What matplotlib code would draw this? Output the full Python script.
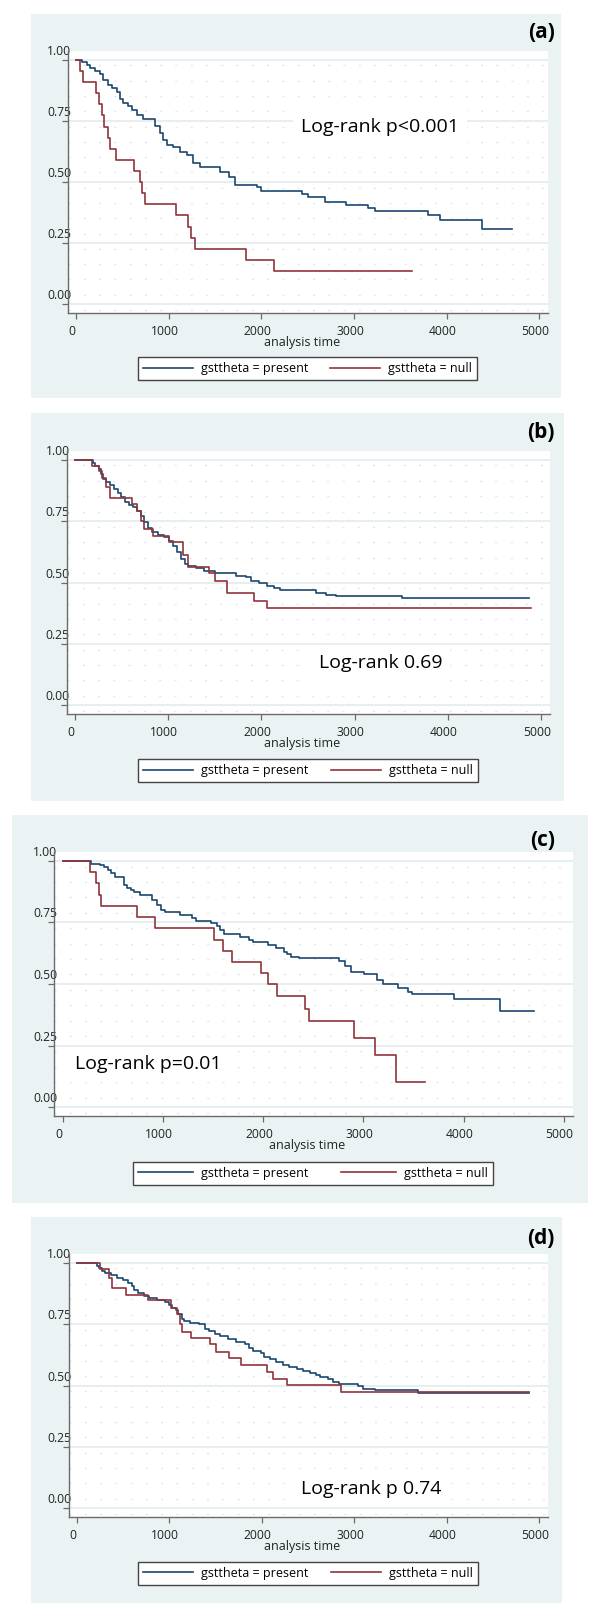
import numpy as np
import matplotlib.pyplot as plt
from matplotlib.patches import Rectangle
from matplotlib.transforms import ScaledTranslation

plt.rcParams['font.family'] = ['Open Sans', 'DejaVu Sans']

BG = '#eaf2f3'
BLUE = '#1a476f'
RED = '#90353b'
AXC = '#6b6b6b'
GRID = '#e2ebee'
DOT = '#dfe8eb'

# ---- data: Kaplan-Meier steps (time, survival after step) ----
a_present_t = [0, 58, 112, 148, 202, 256, 292, 346, 382, 436, 472, 508, 562, 598, 652, 724, 850, 904, 940, 976,
               1048, 1120, 1192, 1264, 1336, 1550, 1650, 1715, 1950, 1990, 2440, 2500, 2690, 2910, 3150, 3230,
               3800, 3930, 4380, 4700]
a_present_s = [1.0, 0.993, 0.980, 0.966, 0.956, 0.943, 0.918, 0.898, 0.884, 0.870, 0.840, 0.822, 0.811, 0.795,
               0.775, 0.757, 0.730, 0.700, 0.672, 0.652, 0.642, 0.624, 0.611, 0.577, 0.563, 0.543, 0.522, 0.490,
               0.480, 0.465, 0.450, 0.440, 0.420, 0.407, 0.395, 0.383, 0.366, 0.345, 0.308, 0.308]
a_null_t = [0, 40, 70, 215, 245, 275, 305, 340, 365, 435, 620, 690, 715, 745, 1080, 1210, 1245, 1285, 1830, 2140, 3620]
a_null_s = [1.0, 0.955, 0.909, 0.864, 0.818, 0.773, 0.727, 0.682, 0.636, 0.591, 0.545, 0.500, 0.455, 0.409,
            0.364, 0.318, 0.273, 0.227, 0.182, 0.136, 0.136]

b_present_t = [0, 193, 213, 254, 283, 307, 336, 377, 418, 459, 500, 541, 582, 623, 664, 705, 746, 787, 828, 889,
               951, 1012, 1053, 1094, 1135, 1176, 1217, 1299, 1381, 1504, 1729, 1832, 1893, 1975, 2057, 2139, 2201,
               2590, 2692, 2795, 3504, 4872]
b_present_s = [1.0, 0.989, 0.976, 0.962, 0.942, 0.921, 0.908, 0.898, 0.881, 0.867, 0.847, 0.827, 0.816, 0.806,
               0.793, 0.772, 0.745, 0.722, 0.705, 0.695, 0.684, 0.671, 0.650, 0.623, 0.596, 0.576, 0.569, 0.560,
               0.549, 0.538, 0.528, 0.522, 0.508, 0.499, 0.488, 0.478, 0.470, 0.458, 0.451, 0.447, 0.436, 0.436]
b_null_t = [0, 184, 254, 295, 336, 377, 615, 664, 705, 746, 840, 1012, 1156, 1217, 1434, 1504, 1627, 1922, 2065, 4893]
b_null_s = [1.0, 0.976, 0.955, 0.928, 0.888, 0.844, 0.820, 0.793, 0.752, 0.718, 0.691, 0.664, 0.614, 0.565,
            0.538, 0.508, 0.457, 0.427, 0.397, 0.397]

c_present_t = [0, 283, 371, 409, 447, 485, 523, 607, 638, 676, 714, 772, 886, 943, 982, 1020, 1173, 1287, 1326,
               1478, 1536, 1574, 1612, 1765, 1860, 1899, 2051, 2128, 2204, 2242, 2281, 2357, 2758, 2815, 2873,
               3006, 3140, 3197, 3350, 3446, 3484, 3904, 4362, 4706]
c_present_s = [1.0, 0.988, 0.982, 0.974, 0.964, 0.950, 0.934, 0.903, 0.889, 0.880, 0.872, 0.862, 0.842, 0.822,
               0.801, 0.791, 0.781, 0.768, 0.757, 0.747, 0.736, 0.720, 0.703, 0.693, 0.680, 0.670, 0.659, 0.646,
               0.632, 0.623, 0.612, 0.605, 0.592, 0.572, 0.551, 0.542, 0.518, 0.500, 0.484, 0.470, 0.461, 0.439,
               0.389, 0.389]
c_null_t = [0, 275, 332, 363, 382, 745, 917, 1505, 1604, 1688, 1983, 2051, 2135, 2422, 2460, 2903, 3121, 3324, 3618]
c_null_s = [1.0, 0.953, 0.909, 0.862, 0.818, 0.772, 0.727, 0.680, 0.635, 0.591, 0.545, 0.501, 0.450, 0.399,
            0.349, 0.281, 0.211, 0.104, 0.104]

d_present_t = [0, 215, 240, 269, 310, 373, 435, 497, 559, 600, 621, 662, 724, 786, 869, 952, 993, 1035, 1076, 1097,
               1138, 1159, 1221, 1324, 1387, 1428, 1490, 1552, 1635, 1718, 1821, 1863, 1904, 1987, 2028, 2090,
               2152, 2235, 2297, 2380, 2442, 2525, 2587, 2628, 2711, 2773, 2835, 3042, 3096, 3228, 3692, 4884]
d_present_s = [1.0, 0.989, 0.977, 0.966, 0.957, 0.949, 0.939, 0.929, 0.919, 0.905, 0.891, 0.878, 0.867, 0.858,
               0.848, 0.840, 0.830, 0.817, 0.807, 0.790, 0.772, 0.765, 0.756, 0.749, 0.731, 0.722, 0.712, 0.701,
               0.691, 0.678, 0.668, 0.654, 0.640, 0.631, 0.617, 0.607, 0.596, 0.586, 0.577, 0.569, 0.559, 0.552,
               0.545, 0.536, 0.525, 0.514, 0.507, 0.498, 0.488, 0.482, 0.471, 0.471]
d_null_t = [0, 257, 352, 385, 538, 766, 1022, 1089, 1118, 1138, 1233, 1440, 1511, 1647, 1780, 2057, 2123, 2268, 2856, 4884]
d_null_s = [1.0, 0.973, 0.939, 0.898, 0.871, 0.847, 0.817, 0.790, 0.749, 0.718, 0.692, 0.668, 0.636, 0.613,
            0.586, 0.556, 0.529, 0.501, 0.474, 0.474]

panel_tags = ['(a)', '(b)', '(c)', '(d)']
logrank_texts = ['Log-rank p<0.001', 'Log-rank 0.69', 'Log-rank p=0.01', 'Log-rank p 0.74']
x_ticks = [0, 1000, 2000, 3000, 4000, 5000]
y_ticks = [0, 0.25, 0.5, 0.75, 1.0]
y_labels = ['0.00', '0.25', '0.50', '0.75', '1.00']
legend_labels = ['gsttheta = present', 'gsttheta = null']

curves = [
    (a_present_t, a_present_s, a_null_t, a_null_s),
    (b_present_t, b_present_s, b_null_t, b_null_s),
    (c_present_t, c_present_s, c_null_t, c_null_s),
    (d_present_t, d_present_s, d_null_t, d_null_s),
]

# ---- layout in pixels (left, top, right, bottom) ----
W, H = 600, 1622
layout = [
    dict(bg=(31, 14, 561, 398), ax=(68, 51, 548, 313), leg=(307.5, 368.5), tag_y=33, txt=(2427, 0.725), hl=4.0, cs=1.76),
    dict(bg=(31, 413, 564, 801), ax=(66.6, 451, 550, 714), leg=(308, 770.5), tag_y=432, txt=(2612, 0.171), hl=4.0, cs=1.76),
    dict(bg=(12, 815, 588, 1203), ax=(54, 852, 573, 1116), leg=(313, 1173), tag_y=840, txt=(122, 0.174), hl=4.4, cs=2.6),
    dict(bg=(31, 1217, 562, 1603), ax=(68.5, 1254, 548, 1517), leg=(308, 1573), tag_y=1239, txt=(2419, 0.081), hl=4.0, cs=1.76),
]


def fx(x):
    return x / W


def fy(y):
    return 1 - y / H


fig = plt.figure(figsize=(W / 100, H / 100), dpi=100)

for i, p in enumerate(layout):
    x0, y0, x1, y1 = p['bg']
    fig.patches.append(Rectangle((fx(x0), fy(y1)), (x1 - x0) / W, (y1 - y0) / H,
                                 transform=fig.transFigure, facecolor=BG, edgecolor='none', zorder=-1))
    l, t, r, b = p['ax']
    ax = fig.add_axes([fx(l), fy(b), (r - l) / W, (b - t) / H])
    ax.set_facecolor('white')

    pt, ps, nt, ns = curves[i]
    ax.step(pt, ps, where='post', color=BLUE, lw=1.2, zorder=3, label=legend_labels[0])
    ax.step(nt, ns, where='post', color=RED, lw=1.2, zorder=3, label=legend_labels[1])

    ax.set_xlim(-88, 5093)
    ax.set_ylim(-0.035, 1.036)
    ax.set_xticks(x_ticks)
    ax.set_yticks(y_ticks, labels=y_labels)

    for s in ['top', 'right']:
        ax.spines[s].set_visible(False)
    for s in ['left', 'bottom']:
        ax.spines[s].set_color(AXC)
        ax.spines[s].set_linewidth(1.0)
    ax.tick_params(axis='both', colors=AXC, labelcolor='#222222', length=4, width=0.9, labelsize=8.7)
    ax.tick_params(axis='y', pad=-6.2)
    ax.tick_params(axis='x', pad=4.3)

    ax.set_axisbelow(True)
    ax.grid(axis='y', color=GRID, lw=1.2)
    # faint dotted rows seen in the background
    for yy in np.arange(0.977, -0.03, -0.0625):
        ax.axhline(yy, color=DOT, lw=1.0, dashes=(1.5, 9.5), zorder=0.4)

    for lab in ax.get_yticklabels():
        lab.set_verticalalignment('baseline')
        lab.set_transform(lab.get_transform() + ScaledTranslation(0, 0.05, fig.dpi_scale_trans))
    for lab in ax.get_xticklabels():
        lab.set_transform(lab.get_transform() + ScaledTranslation(-0.04, 0, fig.dpi_scale_trans))

    ax.text(0.5 - 6 / (r - l), -29.5 / (b - t), 'analysis time', transform=ax.transAxes,
            ha='center', va='center', fontsize=9, color='#222222')

    tx, ty = p['txt']
    ax.text(tx, ty, logrank_texts[i], ha='left', va='center', fontsize=14, color='black', zorder=2.5,
            bbox=dict(facecolor='white', edgecolor='none', pad=6))

    fig.text(fx(555), fy(p['tag_y']), panel_tags[i], ha='right', va='center',
             fontsize=15, fontweight='bold', color='black')

    cx, cy = p['leg']
    leg = ax.legend(loc='center', bbox_to_anchor=(fx(cx), fy(cy)), bbox_transform=fig.transFigure,
                    ncol=2, fontsize=9, frameon=True, fancybox=False, framealpha=1, edgecolor='#444444',
                    handlelength=p['hl'], handletextpad=0.64, columnspacing=p['cs'], borderpad=0.4)
    leg.get_frame().set_linewidth(1.0)

fig.savefig('out.png', dpi=100)
